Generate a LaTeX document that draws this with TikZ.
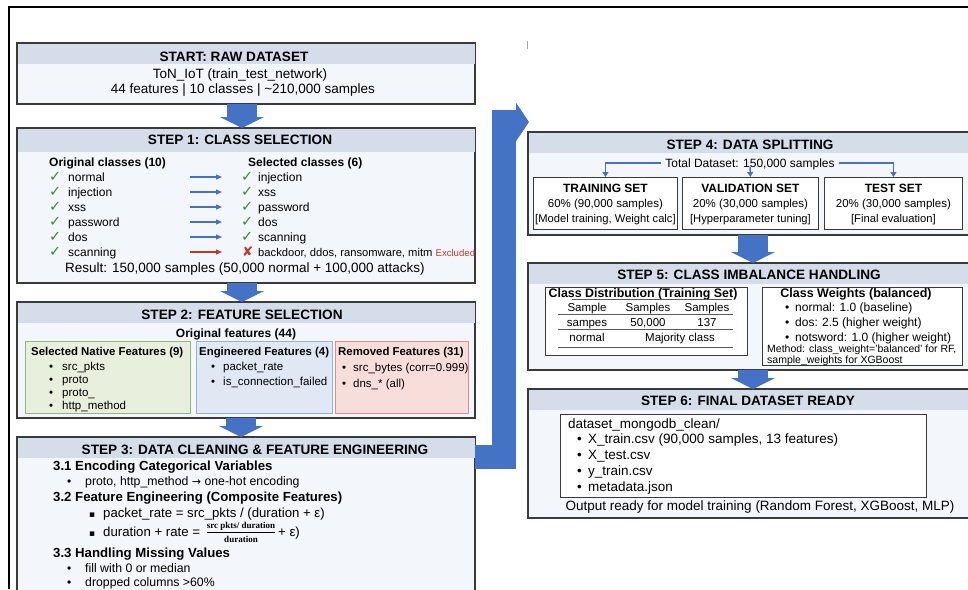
\documentclass[tikz,border=0pt]{standalone}
\usepackage{fontspec}
\setmainfont{Liberation Sans}
\newfontfamily\symfont{DejaVu Sans}
\newfontfamily\fracfont{Liberation Serif}
\usetikzlibrary{calc,arrows.meta}
\definecolor{hdrfill}{HTML}{D5DDEB}
\definecolor{bodyfill}{HTML}{F3F6FA}
\definecolor{boxline}{HTML}{3A3A3A}
\definecolor{bigblue}{HTML}{4472C4}
\definecolor{okgreen}{HTML}{3C8C2C}
\definecolor{exred}{HTML}{C0392B}
\definecolor{gfill}{HTML}{E8F0DD}
\definecolor{gline}{HTML}{93B57E}
\definecolor{bfill}{HTML}{DFE8F3}
\definecolor{bline}{HTML}{98B2D4}
\definecolor{rfill}{HTML}{F8DEDB}
\definecolor{rline}{HTML}{D89390}
\tikzset{
  stepbox/.style={draw=boxline, line width=1.2pt, fill=bodyfill, inner sep=0pt, anchor=north west},
  subbox/.style={draw=boxline, line width=0.9pt, fill=white, inner sep=0pt, anchor=north west},
  hd/.style={inner sep=0pt, font=\bfseries\fontsize{13.6}{15}\selectfont, text height=9.7pt, text depth=0pt},
  fa/.style={inner sep=0pt, font=\fontsize{13.5}{15}\selectfont, text height=9.4pt, text depth=0pt},
  fab/.style={inner sep=0pt, font=\bfseries\fontsize{13.2}{15}\selectfont, text height=9.3pt, text depth=0pt},
  fb/.style={inner sep=0pt, font=\fontsize{12}{14}\selectfont, text height=8.4pt, text depth=0pt},
  fbb/.style={inner sep=0pt, font=\bfseries\fontsize{12}{14}\selectfont, text height=8.4pt, text depth=0pt},
  fc/.style={inner sep=0pt, font=\fontsize{11.5}{13}\selectfont, text height=8pt, text depth=0pt},
  fcb/.style={inner sep=0pt, font=\bfseries\fontsize{11.4}{13}\selectfont, text height=8pt, text depth=0pt},
  fd/.style={inner sep=0pt, font=\fontsize{10.5}{12}\selectfont, text height=7.4pt, text depth=0pt},
  ff/.style={inner sep=0pt, font=\fracfont\bfseries\fontsize{9}{10}\selectfont, text height=6.3pt, text depth=0pt},
  chk/.style={inner sep=0pt, font=\symfont\fontsize{14.5}{15}\selectfont, text=okgreen, text height=9.6pt, text depth=0pt},
  bigarr/.style={draw=bigblue, line width=30pt, -{Triangle[width=44pt,length=11pt]}},
  bendarr/.style={draw=bigblue, line width=24pt, line join=miter, -{Triangle[width=38pt,length=13pt]}},
  rowarr/.style={draw=bigblue, line width=1.2pt, -{Triangle[width=5pt,length=6pt]}},
  thinarr/.style={draw=bigblue, line width=1.4pt, -{Triangle[width=6pt,length=5pt]}},
  tabline/.style={draw=black!65, line width=0.8pt}
}
\newcommand\mkstep[6]{%
  \node[stepbox, minimum width=#4pt, minimum height=#5pt] (#1) at (#2,#3) {};
  \fill[hdrfill] (#1.north west) rectangle ([shift={(0,#6)}]#1.north east);
  \draw[boxline, line width=1.2pt] (#1.north west) rectangle (#1.south east);
}
\begin{document}
\begin{tikzpicture}[x=1pt,y=-1pt]
\useasboundingbox (0,0) rectangle (968,589);
\clip (0,0) rectangle (968,589);
\fill[white] (0,0) rectangle (968,589);
% outer frame (top and left)
\draw[line width=2pt] (9,589) -- (9,7) -- (968,7);
\draw[black!35, line width=0.8pt] (527,41) -- (527,49);

% ---------------- left column boxes
\mkstep{st}{17}{43}{457}{60}{21}
\mkstep{s1}{17}{128}{457}{154}{24}
\mkstep{s2}{17}{302}{457}{115}{21}
\mkstep{s3}{17}{437}{457}{175}{21}
% ---------------- right column boxes
\mkstep{s4}{528}{132}{443}{102}{21}
\mkstep{s5}{528}{263}{443}{106}{21}
\mkstep{s6}{528}{389}{443}{128}{21}

% ---------------- big arrows
\draw[bigarr] (st.south -| 242,0) -- (s1.north -| 242,0);
\draw[bigarr] (s1.south -| 242,0) -- (s2.north -| 242,0);
\draw[bigarr] (s2.south -| 241,0) -- (s3.north -| 241,0);
\draw[bigarr] (s4.south -| 753,0) -- (s5.north -| 753,0);
\draw[bigarr] (s5.south -| 753,0) -- (s6.north -| 753,0);
\coordinate (bend) at (504,122);
\coordinate (bendtip) at (529,122);
\draw[bendarr] ($(s3.north east)+(0,20)$) -| (bend) -- (bendtip);

% ---------------- START
\node[hd] (sth) at (234,57) {START: RAW DATASET};
\node[fa] (st1) at (240,74) {ToN\_IoT (train\_test\_network)};
\node[fa] (st2) at (243,89) {44 features | 10 classes | \textasciitilde 210,000 samples};

% ---------------- STEP 1
\node[hd] (s1h) at (240,140) {STEP 1: CLASS SELECTION};
\node[fbb, anchor=west] (oc) at (49,162) {Original classes (10)};
\node[fbb, anchor=west] (sc) at (248,162) {Selected classes (6)};
\foreach \t [count=\i from 0] in {normal,injection,xss,password,dos,scanning}{
  \node[chk, anchor=west] (lc\i) at (49,177+15*\i) {✓};
  \node[fb, anchor=west] (lt\i) at (68,177+15*\i) {\t};
}
\foreach \t [count=\i from 0] in {injection,xss,password,dos,scanning}{
  \node[chk, anchor=west] (rc\i) at (241,177+15*\i) {✓};
  \node[fb, anchor=west] (rt\i) at (258,177+15*\i) {\t};
  \coordinate (aa\i) at (190,177+15*\i);
  \coordinate (ab\i) at (222,177+15*\i);
  \draw[rowarr] (aa\i) -- (ab\i);
}
\coordinate (aa5) at (190,252);
\coordinate (ab5) at (222,252);
\draw[rowarr, draw=exred] (aa5) -- (ab5);
\node[chk, text=exred, font=\symfont\bfseries\fontsize{13.5}{14}\selectfont, anchor=west] (rc5) at (242,252) {✘};
\node[fb, font=\fontsize{11.2}{13}\selectfont, anchor=west] (rt5) at (258,252) {backdoor, ddos, ransomware, mitm {\color{exred}\fontsize{9.6}{11}\selectfont Excluded}};
\node[fa] (res) at (245,268) {Result: 150,000 samples (50,000 normal + 100,000 attacks)};

% ---------------- STEP 2
\node[hd] (s2h) at (242,315) {STEP 2: FEATURE SELECTION};
\node[fbb] (of) at (236,333) {Original features (44)};
\node[subbox, fill=gfill, draw=gline, minimum width=165pt, minimum height=72pt] (sg) at (25,341) {};
\node[subbox, fill=bfill, draw=bline, minimum width=136pt, minimum height=72pt] (sb) at (196,341) {};
\node[subbox, fill=rfill, draw=rline, minimum width=133pt, minimum height=72pt] (sr) at (335,341) {};
\node[fcb, anchor=west] (sgt) at (31,351) {Selected Native Features (9)};
\node[fcb, anchor=west] (sbt) at (199,351) {Engineered Features (4)};
\node[fcb, anchor=west] (srt) at (338,351) {Removed Features (31)};
\foreach \t [count=\i from 0] in {src\_pkts,proto,proto\_,http\_method}{
  \node[fc, anchor=west] (gb\i) at (49,366+13*\i) {•};
  \node[fc, anchor=west] (gi\i) at (62,366+13*\i) {\t};
}
\foreach \t [count=\i from 0] in {packet\_rate,is\_connection\_failed}{
  \node[fc, anchor=west] (bb\i) at (211,366+15*\i) {•};
  \node[fc, anchor=west] (bi\i) at (223,366+15*\i) {\t};
}
\foreach \t [count=\i from 0] in {src\_bytes (corr=0.999),dns\_* (all)}{
  \node[fc, anchor=west] (rb\i) at (342,367+16*\i) {•};
  \node[fc, anchor=west] (ri\i) at (353,367+16*\i) {\t};
}

% ---------------- STEP 3
\node[hd] (s3h) at (255,450) {STEP 3: DATA CLEANING \& FEATURE ENGINEERING};
\node[fab, anchor=west] (h31) at (53,466) {3.1 Encoding Categorical Variables};
\node[fb, anchor=west] (b31) at (67,481) {•};
\node[fb, font=\fontsize{12.3}{14}\selectfont, anchor=west] (t31) at (85,481) {proto, http\_method {\symfont\fontsize{11}{12}\selectfont →} one-hot encoding};
\node[fab, anchor=west] (h32) at (53,497) {3.2 Feature Engineering (Composite Features)};
\node[fa, anchor=west] (b32a) at (89,513) {{\symfont\fontsize{9}{10}\selectfont ▪}};
\node[fa, font=\fontsize{13.2}{15}\selectfont, anchor=west] (t32a) at (103,513) {packet\_rate = src\_pkts / (duration + ε)};
\node[fa, anchor=west] (b32b) at (89,532) {{\symfont\fontsize{9}{10}\selectfont ▪}};
\node[fa, font=\fontsize{13.2}{15}\selectfont, anchor=west] (t32b) at (103,532) {duration + rate =};
\node[ff] (fnum) at (241,525) {src pkts/ duration};
\node[ff] (fden) at (241,539.5) {duration};
\coordinate (fbar) at (0,532.5);
\draw[line width=0.6pt] (fnum.west |- fbar) -- (fnum.east |- fbar);
\node[fa, font=\fontsize{13.2}{15}\selectfont, anchor=west] (t32c) at (278,532) {+ ε)};
\node[fab, anchor=west] (h33) at (53,553) {3.3 Handling Missing Values};
\node[fb, anchor=west] (b33a) at (67,568) {•};
\node[fb, font=\fontsize{12.3}{14}\selectfont, anchor=west] (t33a) at (85,568) {fill with 0 or median};
\node[fb, anchor=west] (b33b) at (67,582) {•};
\node[fb, font=\fontsize{12.3}{14}\selectfont, anchor=west] (t33b) at (85,582) {dropped columns >60\%};

% ---------------- STEP 4
\node[hd] (s4h) at (750,145) {STEP 4: DATA SPLITTING};
\node[fb] (tot) at (750,163) {Total Dataset: 150,000 samples};
\node[subbox, minimum width=144pt, minimum height=52pt] (tr) at (533,177) {};
\node[subbox, minimum width=136pt, minimum height=52pt] (va) at (682,177) {};
\node[subbox, minimum width=138pt, minimum height=52pt] (te) at (824,177) {};
\draw[thinarr] ([xshift=-4pt]tot.west) -| (tr.north);
\draw[thinarr] ([xshift=4pt]tot.east) -| (te.north);
\draw[thinarr] ([yshift=1pt]tot.south) -- (va.north);
\foreach \n/\a/\b/\c in {tr/TRAINING SET/{60\% (90,000 samples)}/{[Model training, Weight calc]},
                         va/VALIDATION SET/{20\% (30,000 samples)}/{[Hyperparameter tuning]},
                         te/TEST SET/{20\% (30,000 samples)}/{[Final evaluation]}}{
  \node[fbb] (\n1) at ($(\n.north)+(0,11)$) {\a};
  \node[fc] (\n2) at ($(\n.north)+(0,26)$) {\b};
  \node[fc, font=\fontsize{11.2}{13}\selectfont] (\n3) at ($(\n.north)+(0,41)$) {\c};
}

% ---------------- STEP 5
\node[hd] (s5h) at (749,275) {STEP 5: CLASS IMBALANCE HANDLING};
\node[subbox, minimum width=202pt, minimum height=68pt] (cd) at (545,287) {};
\node[subbox, minimum width=200pt, minimum height=78pt] (cw) at (762,287) {};
\node[fbb, font=\bfseries\fontsize{12.4}{14}\selectfont] (cdt) at (643,293) {Class Distribution (Training Set)};
\coordinate (l1a) at (572,299); \coordinate (l1b) at (732,299);
\coordinate (l2a) at (558,314); \coordinate (l2b) at (733,314);
\coordinate (l3a) at (558,329); \coordinate (l3b) at (733,329);
\coordinate (l4a) at (558,347); \coordinate (l4b) at (733,347);
\draw[tabline] (l1a) -- (l1b);
\draw[tabline] (l2a) -- (l2b);
\draw[tabline] (l3a) -- (l3b);
\draw[tabline] (l4a) -- (l4b);
\node[fc] (c11) at (587,307) {Sample};
\node[fc] (c12) at (648,307) {Samples};
\node[fc] (c13) at (707,307) {Samples};
\node[fc] (c21) at (587,322) {sampes};
\node[fc] (c22) at (648,322) {50,000};
\node[fc] (c23) at (707,322) {137};
\node[fc] (c31) at (587,337) {normal};
\node[fc] (c32) at (680,337) {Majority class};
\node[fbb, font=\bfseries\fontsize{12.5}{14}\selectfont] (cwt) at (856,293) {Class Weights (balanced)};
\node[fb, anchor=west] (w1b) at (785,307) {•};
\node[fb, anchor=west] (w1) at (795,307) {normal: 1.0 (baseline)};
\node[fb, anchor=west] (w2b) at (785,322) {•};
\node[fb, anchor=west] (w2) at (795,322) {dos:};
\node[fb, anchor=west] (w2v) at (822,322) {2.5 (higher weight)};
\node[fb, anchor=west] (w3b) at (785,337) {•};
\node[fb, anchor=west] (w3) at (795,337) {notsword: 1.0 (higher weight)};
\node[fd, anchor=west] (m1) at (767,349) {Method: class\_weight='balanced' for RF,};
\node[fd, anchor=west] (m2) at (767,360) {sample\_weights for XGBoost};

% ---------------- STEP 6
\node[hd] (s6h) at (748,401) {STEP 6: FINAL DATASET READY};
\node[subbox, minimum width=366pt, minimum height=83pt] (fd) at (560,414) {};
\node[fa, anchor=west] (fdt) at (568,424) {dataset\_mongodb\_clean/};
\foreach \t/\yy [count=\i] in {{X\_train.csv (90,000 samples, 13 features)}/439, X\_test.csv/455, y\_train.csv/471, metadata.json/487}{
  \node[fa, anchor=west] (fb\i) at (577,\yy) {•};
  \node[fa, anchor=west] (ft\i) at (588,\yy) {\t};
}
\node[fa] (out) at (760,506) {Output ready for model training (Random Forest, XGBoost, MLP)};
\end{tikzpicture}
\end{document}
